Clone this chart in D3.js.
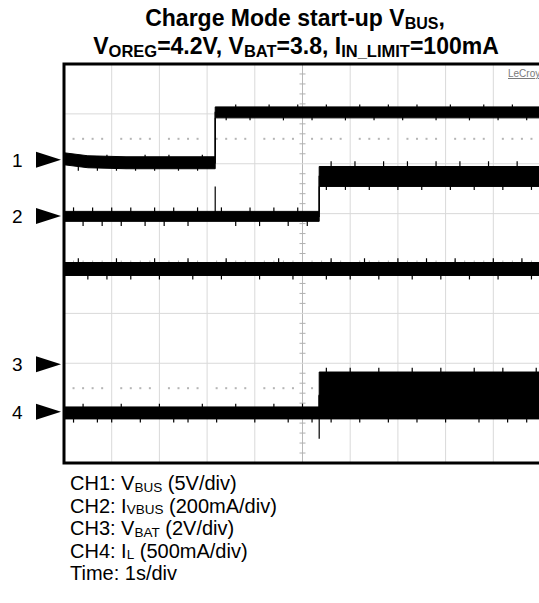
<!DOCTYPE html>
<html><head><meta charset="utf-8">
<script src="https://cdn.jsdelivr.net/npm/d3@7"></script>
<style>html,body{margin:0;padding:0;background:#fff;}svg{display:block;font-family:Arial,"Liberation Sans",sans-serif;}</style>
</head><body>
<script>
// ---------- data ----------
const timeTicks = [0,1,2,3,4,5,6,7,8,9,10];          // seconds (1 s/div)
const vertDivs = [-4,-3,-2,-1,0,1,2,3,4];              // screen divisions
const channels = ["1","2","3","4"];
const channelScale = [5, 200, 2, 500];                 // units per div
const channelOffsetDiv = [2.08, 0.95, -2.02, -2.97];   // ground marker position (div)
const titleLine1 = [["Charge Mode start-up V","BUS"],[",",""]];
const titleLine2 = [["V","OREG"],["=4.2V, V","BAT"],["=3.8, I","IN_LIMIT"],["=100mA",""]];
const legendLines = [
  [["CH1: V","BUS"],[" (5V/div)",""]],
  [["CH2: I","VBUS"],[" (200mA/div)",""]],
  [["CH3: V","BAT"],[" (2V/div)",""]],
  [["CH4: I","L"],[" (500mA/div)",""]],
  [["Time: 1s/div",""]]
];
// envelopes [t, high, low] in channel units
const ch1Env = [[0,0.7,-0.5],[0.5,0.4,-0.8],[1.3,0.3,-0.9],[3.17,0.3,-0.9],[3.17,5.3,4.2],[10,5.3,4.2]];
const ch2Env = [[0,19,-21],[5.35,19,-21],[5.35,199,119],[10,199,119]];
const ch3Env = [[0,4.08,3.56],[10,4.08,3.56]];
const ch4Env = [[0,47,-73],[5.35,47,-73],[5.35,397,-73],[10,397,-73]];
// glitches [t, value]
const ch1Spikes = [[0.3,-1.1],[0.7,-1.1],[1.1,-1.1],[1.5,-1.1],[1.9,-1.1],[2.4,-1.1],[2.8,-1.1],[0.9,0.5],[1.7,0.5],[2.2,0.5],[2.9,0.5],
  [3.6,5.55],[4.3,5.55],[4.9,5.55],[5.5,5.55],[6.2,5.55],[6.8,5.55],[7.4,5.55],[8.1,5.55],[8.8,5.55],[9.4,5.55],
  [3.4,3.95],[3.9,3.95],[4.6,3.95],[5.2,3.95],[5.9,3.95],[6.5,3.95],[7.1,3.95],[7.8,3.95],[8.5,3.95],[9.1,3.95],[9.7,3.95]];
const ch2Spikes = [[0.2,35],[0.6,35],[1.0,35],[1.4,35],[1.9,35],[2.3,35],[2.8,35],[3.3,35],[3.9,35],[4.4,35],[4.9,35],
  [0.4,-40],[0.8,-40],[1.2,-40],[1.7,-40],[2.1,-40],[2.6,-40],[3.6,-40],[4.1,-40],[4.7,-40],[5.1,-40],[3.17,119],
  [5.6,220],[6.1,220],[6.7,220],[7.2,220],[7.8,220],[8.3,220],[8.9,220],[9.5,220],
  [5.5,105],[5.9,105],[6.4,105],[7.0,105],[7.5,105],[8.1,105],[8.6,105],[9.2,105],[9.8,105]];
const ch3Spikes = [[0.3,4.25],[1.1,4.25],[1.9,4.25],[2.6,4.25],[3.4,4.25],[4.5,4.25],[5.6,4.25],[6.3,4.25],[7.0,4.25],[7.6,4.25],[8.2,4.25],[9.0,4.25],[9.6,4.25],
  [0.5,3.4],[0.9,3.4],[1.4,3.4],[2.0,3.4],[2.7,3.4],[3.3,3.4],[4.1,3.4],[4.8,3.4],[5.5,3.4],[6.0,3.4],[6.6,3.4],[7.3,3.4],[7.9,3.4],[8.5,3.4],[9.1,3.4],[9.8,3.4]];
const ch4Spikes = [[0.4,80],[1.2,80],[2.0,80],[2.9,80],[3.6,80],[4.4,80],[5.0,80],
  [0.2,-110],[0.7,-110],[1.0,-110],[1.6,-110],[2.3,-110],[2.6,-110],[3.2,-110],[4.0,-110],[4.7,-110],[5.2,-110],[5.35,-273],
  [5.5,440],[6.0,440],[6.6,440],[7.3,440],[7.9,440],[8.6,440],[9.2,440],[9.9,440],
  [5.6,-110],[6.2,-110],[6.8,-110],[7.4,-110],[8.0,-110],[8.7,-110],[9.3,-110],[9.7,-110]];
const envelopes = [ch1Env, ch2Env, ch3Env, ch4Env];
const spikes = [ch1Spikes, ch2Spikes, ch3Spikes, ch4Spikes];

// ---------- layout ----------
const W = 539, H = 603;
const svg = d3.select("body").append("svg").attr("width", W).attr("height", H);
const x = d3.scaleLinear().domain([0,10]).range([64, 541]);
const y = d3.scaleLinear().domain([-4,4]).range([463, 64]);
const yCh = (ci, v) => y(channelOffsetDiv[ci] + v / channelScale[ci]);

function richText(sel, parts, subSize, shift) {
  let pending = 0;
  parts.forEach(([main, sub]) => {
    sel.append("tspan").attr("dy", pending).text(main);
    pending = 0;
    if (sub) {
      sel.append("tspan").attr("font-size", subSize).attr("dy", shift).text(sub);
      pending = -shift;
    }
  });
}

// title
const tl1 = svg.append("text").attr("text-anchor","middle").attr("font-weight","bold")
  .attr("font-size",23).attr("x",295).attr("y",25.5);
richText(tl1, titleLine1, 16, 3.5);
const tl2 = svg.append("text").attr("text-anchor","middle").attr("font-weight","bold")
  .attr("font-size",23).attr("x",296).attr("y",53.5);
richText(tl2, titleLine2, 16.5, 3.5);

// clip
svg.append("clipPath").attr("id","pc").append("rect").attr("x",64).attr("y",64).attr("width",477).attr("height",399);
const g = svg.append("g").attr("clip-path","url(#pc)");

// grid
g.selectAll(".vg").data(timeTicks.slice(1,-1)).join("line")
  .attr("x1",d=>x(d)).attr("x2",d=>x(d)).attr("y1",64).attr("y2",463)
  .attr("stroke", d=> d===5 ? "#b8b8b8" : "#d9d9d9").attr("stroke-width",1);
g.selectAll(".hg").data(vertDivs.slice(1,-1)).join("line")
  .attr("y1",d=>y(d)).attr("y2",d=>y(d)).attr("x1",64).attr("x2",541)
  .attr("stroke", d=> d===0 ? "#b8b8b8" : "#d9d9d9").attr("stroke-width",1);
// minor ticks on centre axes
const minorT = d3.range(0, 10.001, 0.2).filter(v => Math.abs(v - Math.round(v)) > 1e-6);
const minorV = d3.range(-4, 4.001, 0.2).filter(v => Math.abs(v - Math.round(v)) > 1e-6);
g.selectAll(".mty").data(minorV).join("line")
  .attr("x1",x(5)-3).attr("x2",x(5)+3).attr("y1",d=>y(d)).attr("y2",d=>y(d)).attr("stroke","#b0b0b0");
g.selectAll(".mtx").data(minorT).join("line")
  .attr("y1",y(0)-3).attr("y2",y(0)+3).attr("x1",d=>x(d)).attr("x2",d=>x(d)).attr("stroke","#b0b0b0");
// dotted rows
[2.5,-2.5].forEach(r=>{
  g.selectAll(null).data(minorT).join("rect")
    .attr("x",d=>x(d)-1).attr("y",y(r)-1).attr("width",2).attr("height",2).attr("fill","#b5b5b5");
});

// traces
envelopes.forEach((env, ci) => {
  const area = d3.area().x(d=>x(d[0])).y0(d=>yCh(ci,d[2])).y1(d=>yCh(ci,d[1]));
  g.append("path").attr("d", area(env)).attr("fill","#000").attr("stroke","#000").attr("stroke-width",1);
  const line = d3.line().x(d=>x(d[0])).y(d=>yCh(ci,(d[1]+d[2])/2));
  g.append("path").attr("d", line(env)).attr("fill","none").attr("stroke","#000").attr("stroke-width",1.3);
  g.selectAll(null).data(spikes[ci]).join("line")
    .attr("x1",d=>x(d[0])).attr("x2",d=>x(d[0]))
    .attr("y1",d=>{ const e = env.filter(p=>p[0]<=d[0]).pop() || env[0]; return yCh(ci,(e[1]+e[2])/2); })
    .attr("y2",d=>yCh(ci,d[1]))
    .attr("stroke","#000").attr("stroke-width",1.2);
});

// LeCroy label
svg.append("text").attr("x",508).attr("y",77).attr("font-size",10).attr("fill","#7a7a7a")
  .attr("text-decoration","underline").text("LeCroy");

// frame
svg.append("rect").attr("x",64).attr("y",64).attr("width",477).attr("height",399)
  .attr("fill","none").attr("stroke","#000").attr("stroke-width",3);

// channel markers
channels.forEach((c, ci) => {
  const yy = y(channelOffsetDiv[ci]);
  svg.append("path").attr("d", `M36,${yy-8}L61,${yy}L36,${yy+8}Z`).attr("fill","#000");
  svg.append("text").attr("x",12).attr("y",yy+7).attr("font-size",19).attr("fill","#000").text(c);
});

// legend
legendLines.forEach((parts, i) => {
  const t = svg.append("text").attr("x",70).attr("y",490 + i*22.5).attr("font-size",20).attr("fill","#000");
  richText(t, parts, 13.5, 1.5);
});
</script>
</body></html>
